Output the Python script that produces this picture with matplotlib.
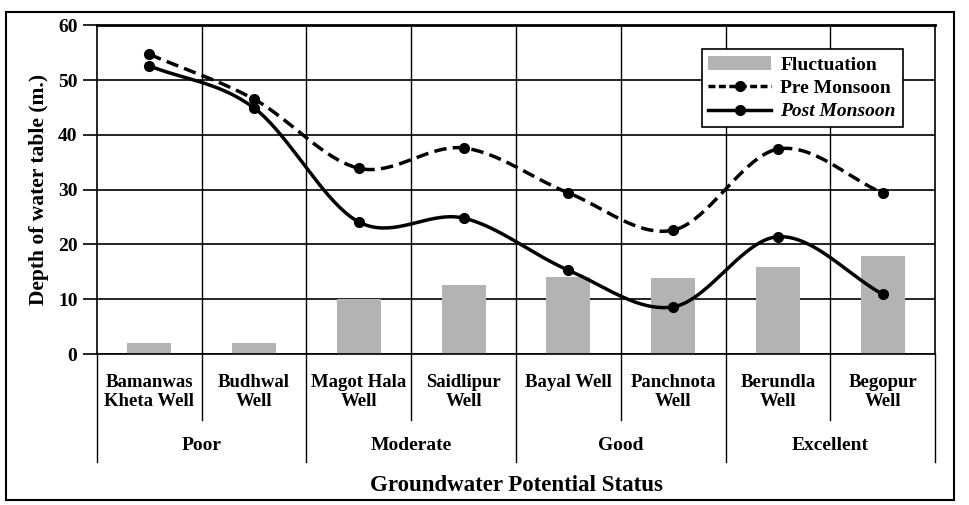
import matplotlib.pyplot as plt
import numpy as np
from matplotlib.lines import Line2D
from matplotlib.patches import Patch, Rectangle
import matplotlib.transforms as mtransforms

plt.rcParams['font.family'] = ['Liberation Serif', 'DejaVu Serif']
plt.rcParams['font.weight'] = 'bold'

wells = ["Bamanwas\nKheta Well", "Budhwal\nWell", "Magot Hala\nWell", "Saidlipur\nWell",
         "Bayal Well", "Panchnota\nWell", "Berundla\nWell", "Begopur\nWell"]
groups = ["Poor", "Moderate", "Good", "Excellent"]
fluctuation = [2.0, 2.0, 10.0, 12.6, 14.0, 13.9, 15.9, 17.9]
pre_monsoon = [54.7, 46.5, 33.9, 37.6, 29.4, 22.6, 37.4, 29.4]
post_monsoon = [52.6, 44.9, 24.1, 24.8, 15.3, 8.6, 21.4, 10.9]


def smooth(x, y, n=40):
    # catmull-rom curve through the points (like Excel's smoothed line)
    x = np.asarray(x, float)
    y = np.asarray(y, float)
    px = np.concatenate([[2 * x[0] - x[1]], x, [2 * x[-1] - x[-2]]])
    py = np.concatenate([[2 * y[0] - y[1]], y, [2 * y[-1] - y[-2]]])
    xs, ys = [], []
    t = np.linspace(0, 1, n)
    for i in range(1, len(px) - 2):
        for p, out in ((px, xs), (py, ys)):
            p0, p1, p2, p3 = p[i - 1], p[i], p[i + 1], p[i + 2]
            out.extend(0.5 * (2 * p1 + (-p0 + p2) * t
                              + (2 * p0 - 5 * p1 + 4 * p2 - p3) * t ** 2
                              + (-p0 + 3 * p1 - 3 * p2 + p3) * t ** 3))
    return np.array(xs), np.array(ys)


fig = plt.figure(figsize=(9.69, 5.05), dpi=100)
ax = fig.add_axes([0.100, 0.299, 0.865, 0.651])

x = np.arange(len(wells))
ax.bar(x, fluctuation, width=0.42, color='#b3b3b3', zorder=2)

sx, sy = smooth(x, pre_monsoon)
ax.plot(sx, sy, color='black', lw=2.5, ls=(0, (3.6, 1.8)), zorder=3)
ax.plot(x, pre_monsoon, 'o', color='black', ms=7, zorder=4)
sx, sy = smooth(x, post_monsoon)
ax.plot(sx, sy, color='black', lw=2.5, zorder=3)
ax.plot(x, post_monsoon, 'o', color='black', ms=7, zorder=4)

ax.set_xlim(-0.5, len(wells) - 0.5)
ax.set_ylim(0, 60)
ax.set_yticks(range(0, 61, 10))
ax.tick_params(axis='y', labelsize=14, length=10, width=1.2, pad=4)
ax.set_xticks([])
ax.grid(axis='y', color='black', lw=1.2, zorder=0)
for b in np.arange(0.5, len(wells) - 0.5):
    ax.axvline(b, color='black', lw=1.0, zorder=0)
for s in ax.spines.values():
    s.set_linewidth(1.2)
ax.spines['top'].set_linewidth(2)

ax.set_ylabel("Depth of water table (m.)", fontsize=15.5, fontweight='bold', labelpad=6)

# category labels below the axis
trans = mtransforms.blended_transform_factory(ax.transData, ax.transAxes)
for i, w in enumerate(wells):
    ax.text(i, -0.06, w, transform=trans, ha='center', va='top', fontsize=13.5,
            fontweight='bold', linespacing=1.2)
for g, name in enumerate(groups):
    ax.text(2 * g + 0.5, -0.277, name, transform=trans, ha='center', va='center',
            fontsize=14, fontweight='bold')
for b in np.arange(-0.5, len(wells)):
    bottom = -0.328 if (b + 0.5) % 2 == 0 else -0.20
    ax.add_line(Line2D([b, b], [0, bottom], transform=trans, color='black',
                       lw=1.0, clip_on=False))
ax.text(0.5, -0.40, "Groundwater Potential Status", transform=ax.transAxes,
        ha='center', va='center', fontsize=16.5, fontweight='bold')

handles = [Patch(facecolor='#b3b3b3'),
           Line2D([], [], color='black', lw=2.5, ls=(0, (2, 1)), marker='o', ms=7),
           Line2D([], [], color='black', lw=2.5, marker='o', ms=7)]
leg = ax.legend(handles, ["Fluctuation", "Pre Monsoon", "Post Monsoon"],
                loc='upper right', bbox_to_anchor=(0.973, 0.957), fontsize=14,
                frameon=True, fancybox=False, edgecolor='black', framealpha=1,
                handlelength=3.2, borderpad=0.35, labelspacing=0.3,
                handletextpad=0.5)
leg.get_frame().set_linewidth(1.2)
leg.get_texts()[2].set_fontstyle('italic')

fig.add_artist(Rectangle((0.006, 0.01), 0.979, 0.966, transform=fig.transFigure,
                         fill=False, edgecolor='black', lw=1.5))

fig.savefig("out.png", dpi=100)
